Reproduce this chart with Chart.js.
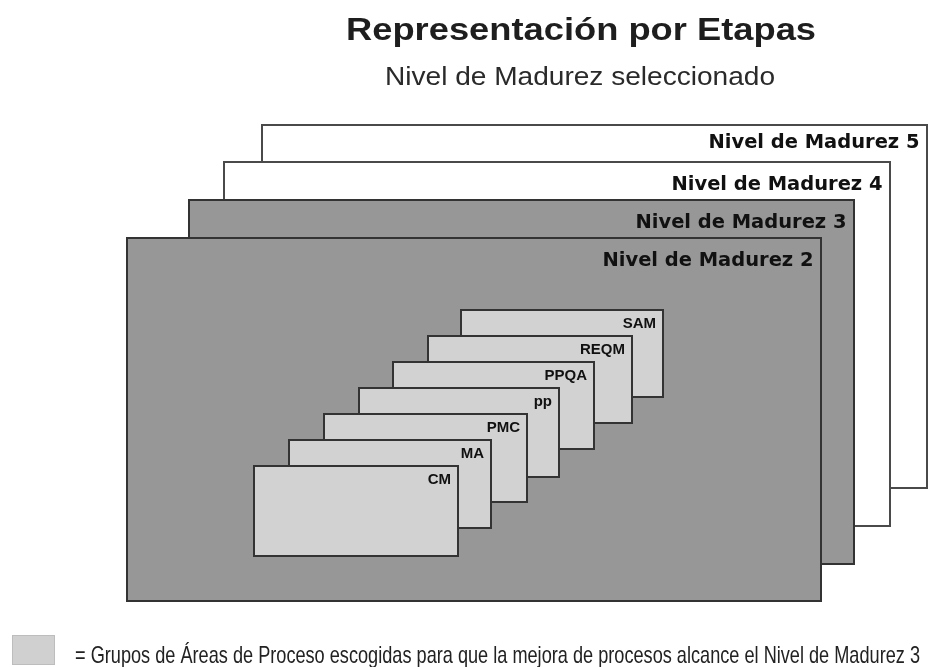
<!DOCTYPE html>
<html>
<head>
<meta charset="utf-8">
<style>
  html, body { margin: 0; padding: 0; background: #ffffff; }
  #wrap { width: 930px; height: 667px; }
</style>
<script src="https://cdn.jsdelivr.net/npm/chart.js@4"></script>
</head>
<body>
<div id="wrap"><canvas id="c" width="930" height="667"></canvas></div>
<script>
// ---- Data (diagram units, back to front) ----
const levelNames = ['Nivel de Madurez 5', 'Nivel de Madurez 4', 'Nivel de Madurez 3', 'Nivel de Madurez 2'];
const levelLeft = [262, 224, 189, 127];
const levelTop = [125, 162, 200, 238];
const levelRight = [927, 890, 854, 821];
const levelBottom = [488, 526, 564, 601];
const levelSelected = [false, false, true, true];

const areaNames = ['SAM', 'REQM', 'PPQA', 'pp', 'PMC', 'MA', 'CM'];
const areaLeft = [461, 428, 393, 359, 324, 289, 254];
const areaTop = [310, 336, 362, 388, 414, 440, 466];
const areaRight = [663, 632, 594, 559, 527, 491, 458];
const areaBottom = [397, 423, 449, 477, 502, 528, 556];

const titleText = 'Representación por Etapas';
const subtitleText = 'Nivel de Madurez seleccionado';
const legendText = '= Grupos de Áreas de Proceso escogidas para que la mejora de procesos alcance el Nivel de Madurez 3';

// ---- Build datasets ----
function rectPoints(l, t, r, b) {
  return [{x: l, y: t}, {x: r, y: t}, {x: r, y: b}, {x: l, y: b}, {x: l, y: t}];
}
const datasets = [];
levelNames.forEach((name, i) => {
  datasets.push({
    label: name,
    data: rectPoints(levelLeft[i], levelTop[i], levelRight[i], levelBottom[i]),
    backgroundColor: levelSelected[i] ? '#979797' : '#ffffff',
    borderColor: levelSelected[i] ? '#333333' : '#4a4a4a',
    kind: 'level', idx: i
  });
});
areaNames.forEach((name, i) => {
  datasets.push({
    label: name,
    data: rectPoints(areaLeft[i], areaTop[i], areaRight[i], areaBottom[i]),
    backgroundColor: '#d2d2d2',
    borderColor: '#333333',
    kind: 'area', idx: i
  });
});
const N = datasets.length;
datasets.forEach((d, i) => {
  Object.assign(d, {
    showLine: true, fill: 'shape', borderWidth: 2, pointRadius: 0, pointHoverRadius: 0,
    tension: 0, borderJoinStyle: 'miter', borderCapStyle: 'square', order: N - i
  });
});

function fitText(ctx, text, x, y, font, width, align) {
  ctx.save();
  ctx.font = font;
  const w = ctx.measureText(text).width;
  const s = width / w;
  ctx.textBaseline = 'alphabetic';
  ctx.textAlign = 'left';
  let x0 = x;
  if (align === 'center') x0 = x - width / 2;
  if (align === 'right') x0 = x - width;
  ctx.translate(x0, y);
  ctx.scale(s, 1);
  ctx.fillText(text, 0, 0);
  ctx.restore();
}

const labelsPlugin = {
  id: 'labels',
  afterDatasetsDraw(chart) {
    const ctx = chart.ctx;
    const xs = chart.scales.x, ys = chart.scales.y;
    // level labels
    ctx.fillStyle = '#111111';
    levelNames.forEach((name, i) => {
      const xr = xs.getPixelForValue(levelRight[i]) - 7.5;
      const yb = ys.getPixelForValue(levelTop[i]) + (i === 0 ? 22.5 : 28);
      fitText(ctx, name, xr, yb, 'bold 20px "DejaVu Sans", Verdana, sans-serif', 211, 'right');
    });
    // area labels
    ctx.save();
    ctx.fillStyle = '#111111';
    ctx.font = 'bold 15px "Liberation Sans", Arial, sans-serif';
    ctx.textAlign = 'right';
    ctx.textBaseline = 'alphabetic';
    areaNames.forEach((name, i) => {
      const xr = xs.getPixelForValue(areaRight[i]) - 7;
      const yb = ys.getPixelForValue(areaTop[i]) + 18;
      ctx.fillText(name, xr, yb);
    });
    ctx.restore();
    // title & subtitle
    ctx.fillStyle = '#1e1e1e';
    fitText(ctx, titleText, 581, 39.5, 'bold 31px "Liberation Sans", Arial, sans-serif', 470, 'center');
    ctx.fillStyle = '#2a2a2a';
    fitText(ctx, subtitleText, 580, 85, '25px "Liberation Sans", Arial, sans-serif', 390, 'center');
    // legend key
    ctx.save();
    ctx.fillStyle = '#d0d0d0';
    ctx.fillRect(12, 635, 43, 30);
    ctx.strokeStyle = '#bdbdbd';
    ctx.lineWidth = 1;
    ctx.strokeRect(12.5, 635.5, 42, 29);
    ctx.restore();
    ctx.fillStyle = '#222222';
    fitText(ctx, legendText, 75, 662.5, '24px "Liberation Sans", Arial, sans-serif', 845, 'left');
  }
};

new Chart(document.getElementById('c'), {
  type: 'scatter',
  data: { datasets },
  options: {
    responsive: false,
    animation: false,
    events: [],
    layout: { padding: 0 },
    scales: {
      x: { type: 'linear', min: 0, max: 930, display: false },
      y: { type: 'linear', min: 0, max: 667, reverse: true, display: false }
    },
    plugins: {
      legend: { display: false },
      tooltip: { enabled: false },
      title: { display: false }
    }
  },
  plugins: [labelsPlugin]
});
</script>
</body>
</html>
